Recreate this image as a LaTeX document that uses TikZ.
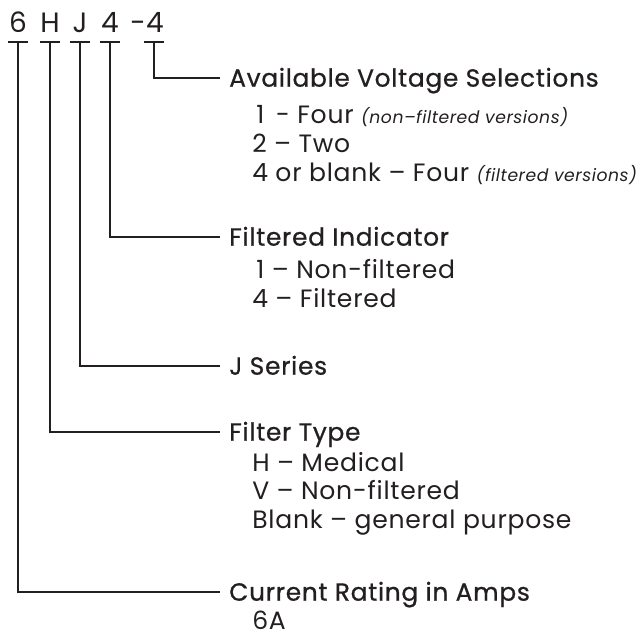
\documentclass[tikz,border=0pt]{standalone}
\usepackage{fontspec}
\setmainfont{Poppins}[LetterSpace=3]
\newfontfamily\headfont{Poppins}[FakeBold=0.8, LetterSpace=3]
\definecolor{ink}{HTML}{231F20}
\newcommand{\vnote}[1]{{\fontsize{12.9}{15}\selectfont\itshape #1}}
\tikzset{
	code/.style={font=\fontsize{21}{24}\selectfont, text=ink, anchor=base, inner sep=0pt},
	head/.style={font=\headfont\fontsize{18.6}{22}\selectfont, text=ink, anchor=west, inner sep=0pt, text height=13pt, text depth=0pt},
	item/.style={font=\fontsize{18.8}{22}\selectfont, text=ink, anchor=base west, inner sep=0pt},
	lead/.style={draw=ink, line width=1.5pt}
}
\begin{document}
\begin{tikzpicture}[x=0.75pt, y=-0.75pt]
		\useasboundingbox (0,0) rectangle (644,637);

		% part number
		\node[code] (c6) at (18,32) {6};
		\node[code] (cH) at (50,32) {H};
		\node[code] (cJ) at (80,32) {J};
		\node[code] (c4) at (110,32) {4};
		\node[code] (cdash) at (138,32) {-};
		\node[code] (c44) at (155,32) {4};

		% tick points
		\coordinate (t6) at (18,42);
		\coordinate (tH) at (50,42);
		\coordinate (tJ) at (80,42);
		\coordinate (t4) at (110,42);
		\coordinate (t44) at (154,42);

		% headings
		\node[head] (volt) at (229,78) {Available Voltage Selections};
		\node[head] (filt) at (229,237) {Filtered Indicator};
		\node[head] (ser) at (229,366) {J Series};
		\node[head] (ftype) at (229,432) {Filter Type};
		\node[head] (amps) at (229,592) {Current Rating in Amps};

		% options
		\node[item] (v1) at (252,123) {\,1 \,- Four \vnote{(non--filtered versions)}};
		\node[item] (v2) at (252,152) {2 -- Two};
		\node[item] (v4) at (252,181) {4 or blank -- Four \vnote{(filtered versions)}};
		\node[item] (f1) at (252,278) {\,1 -- Non-filtered};
		\node[item] (f4) at (252,307) {4 -- Filtered};
		\node[item] (tH1) at (252,471) {H -- Medical};
		\node[item] (tV) at (252,499) {V -- Non-filtered};
		\node[item] (tB) at (252,528) {Blank -- general purpose};
		\node[item] (a6) at (252,629) {6A};

		% leaders
		\foreach \t/\h in {t44/volt, t4/filt, tJ/ser, tH/ftype, t6/amps} {
			\draw[lead] (\t) ++(-10,0) -- ++(20,0);
			\draw[lead] (\t) |- ([xshift=-6.75pt]\h.west);
		}
	\end{tikzpicture}
\end{document}
